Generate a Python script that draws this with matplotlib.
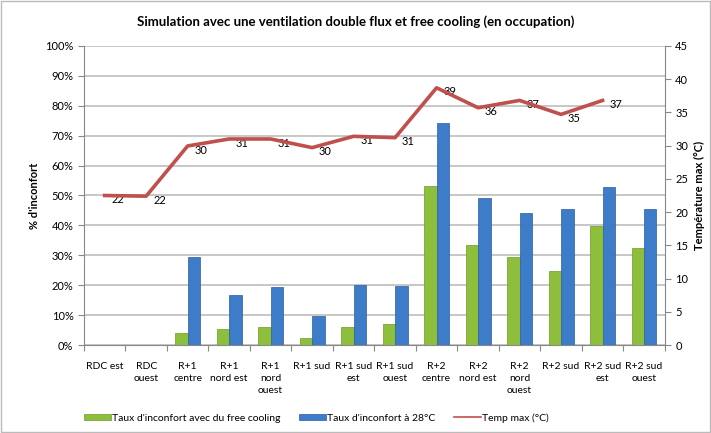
import numpy as np
import matplotlib.pyplot as plt
from matplotlib.patches import Rectangle

plt.rcParams['font.family'] = ['Lato', 'DejaVu Sans']

# Data
categories = ['RDC est', 'RDC\nouest', 'R+1\ncentre', 'R+1\nnord est', 'R+1\nnord\nouest',
              'R+1 sud', 'R+1 sud\nest', 'R+1 sud\nouest', 'R+2\ncentre', 'R+2\nnord est',
              'R+2\nnord\nouest', 'R+2 sud', 'R+2 sud\nest', 'R+2 sud\nouest']
free_cooling = [0, 0, 4.0, 5.3, 6.0, 2.3, 6.0, 7.0, 53.2, 33.5, 29.6, 24.9, 39.8, 32.5]
taux_28 = [0, 0, 29.3, 16.7, 19.4, 9.7, 20.0, 19.7, 74.1, 49.3, 44.0, 45.6, 53.0, 45.6]
temp_max = [22.5, 22.4, 29.95, 31.0, 31.0, 29.7, 31.4, 31.2, 38.7, 35.7, 36.8, 34.7, 36.8]
temp_labels = ['22', '22', '30', '31', '31', '30', '31', '31', '39', '36', '37', '35', '37']

x = np.arange(len(categories))
w = 0.3

fig = plt.figure(figsize=(7.11, 4.33), dpi=100)
ax = fig.add_axes([0.118, 0.203, 0.817, 0.691])
ax2 = ax.twinx()

# Bars
b1 = ax.bar(x - w / 2, free_cooling, w, color='#8DBE3C', edgecolor='#6E9A2A', linewidth=0.5,
            label="Taux d'inconfort avec du free cooling", zorder=3)
b2 = ax.bar(x + w / 2, taux_28, w, color='#3D7CC9', edgecolor='#2C5E9E', linewidth=0.5,
            label="Taux d'inconfort à 28°C", zorder=3)

ax.set_xlim(-0.5, len(categories) - 0.5)
ax.set_ylim(0, 100)
ax.set_yticks(np.arange(0, 101, 10))
ax.set_yticklabels([f'{v}%' for v in range(0, 101, 10)], fontsize=8)
ax.yaxis.grid(True, color='#BDBDBD', linewidth=1.2, zorder=0)
ax.set_axisbelow(True)
ax.set_ylabel("% d'inconfort", fontsize=8, fontweight='bold')

# category boundary ticks
ax.set_xticks(np.arange(-0.5, len(categories), 1), minor=False)
ax.set_xticklabels([])
ax.tick_params(axis='x', length=4, color='#888888')
ax.set_xticks(x, minor=True)
ax.set_xticklabels(categories, minor=True, fontsize=7.5, va='top', linespacing=1.45)
ax.tick_params(axis='x', which='minor', length=0, pad=12)
ax.tick_params(axis='y', length=4, color='#888888')

# Temperature line
ax2.plot(x[:len(temp_max)], temp_max, color='#C0504D', linewidth=2.6, label='Temp max (°C)', zorder=4)
for xi, yi, lab in zip(x, temp_max, temp_labels):
    ax2.annotate(lab, (xi, yi), xytext=(5, -3), textcoords='offset points',
                 fontsize=8, ha='left', va='center')
ax2.set_ylim(0, 45)
ax2.set_yticks(np.arange(0, 46, 5))
ax2.tick_params(axis='y', labelsize=8, length=4, color='#888888')
ax2.set_ylabel('Température max (°C)', fontsize=8, fontweight='bold')

for a in (ax, ax2):
    for s in a.spines.values():
        s.set_visible(False)
ax.spines['left'].set_visible(True)
ax.spines['left'].set_color('#888888')
ax.spines['bottom'].set_visible(True)
ax.spines['bottom'].set_color('#888888')
ax2.spines['right'].set_visible(True)
ax2.spines['right'].set_color('#888888')

fig.suptitle('Simulation avec une ventilation double flux et free cooling (en occupation)',
             fontsize=9.5, fontweight='bold', y=0.965)

handles = [b1, b2, ax2.get_lines()[0]]
leg = fig.legend(handles, [h.get_label() for h in handles], loc='center', bbox_to_anchor=(0.445, 0.035),
                 ncol=3, frameon=False, fontsize=7.5, handlelength=2.6, handleheight=0.5,
                 columnspacing=1.8, handletextpad=0.1)
leg.get_lines()[0].set_linewidth(1.2) if leg.get_lines() else None

fig.patches.append(Rectangle((0.001, 0.002), 0.997, 0.996, transform=fig.transFigure,
                             fill=False, edgecolor='#BBBBBB', linewidth=1))

fig.savefig('out.png', dpi=100)
